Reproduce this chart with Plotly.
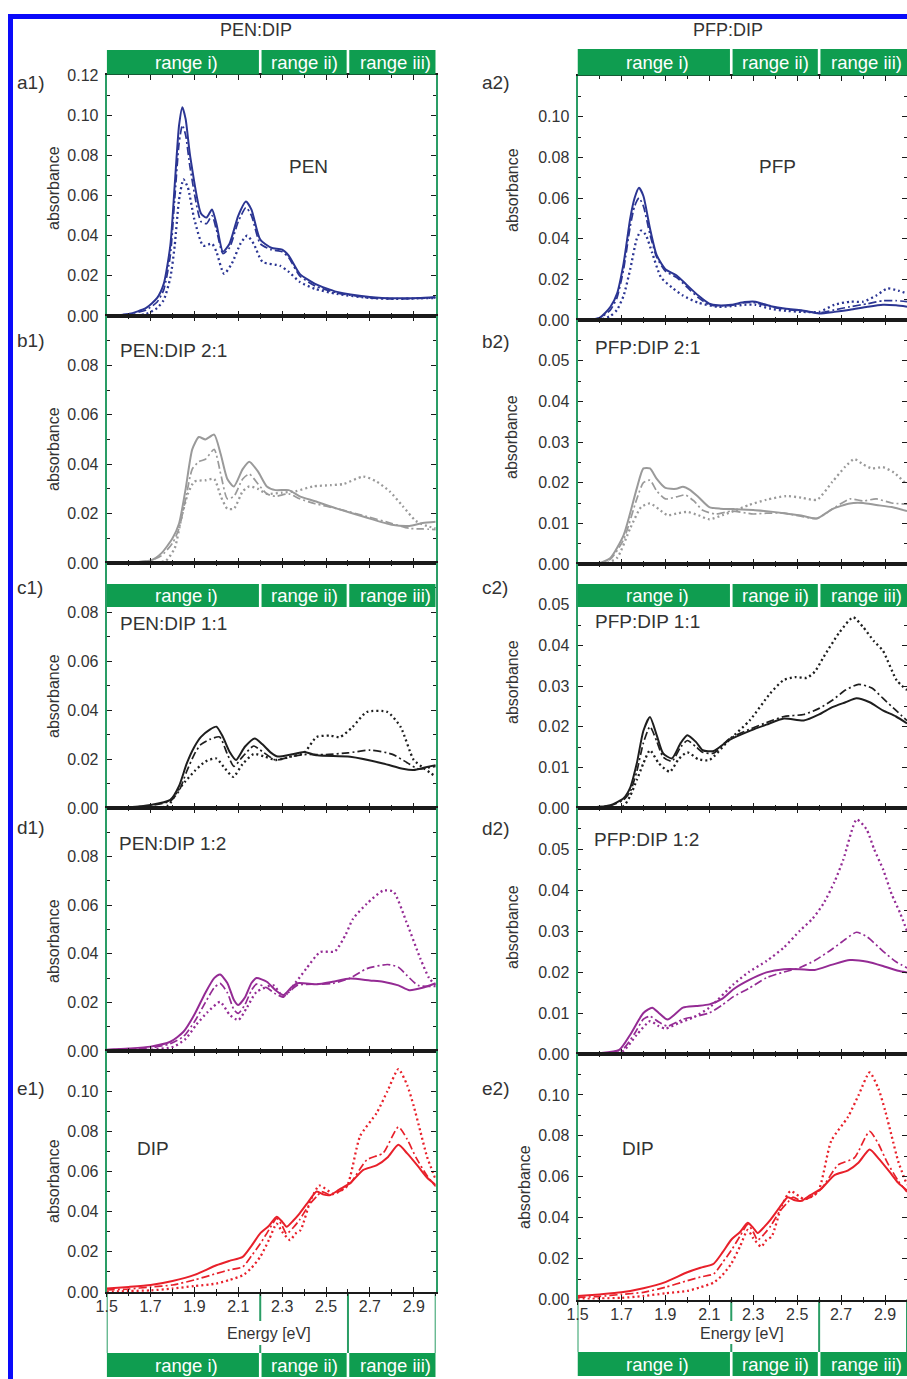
import plotly.graph_objects as go

W, H = 907, 1379


def px(x):
    return x / W


def py(y):
    return 1 - y / H


# ---------------- DATA (energy in eV, absorbance) ----------------
# a1) PEN
a1_solid_E = [1.50, 1.60, 1.68, 1.73, 1.76, 1.79, 1.81, 1.83, 1.845, 1.86, 1.88, 1.93, 1.955, 1.98, 2.00, 2.03, 2.06, 2.10, 2.135, 2.16, 2.20, 2.25, 2.30, 2.33, 2.38, 2.45, 2.55, 2.70, 2.82, 2.92, 3.00]
a1_solid_A = [0.000, 0.001, 0.004, 0.009, 0.016, 0.035, 0.065, 0.095, 0.104, 0.098, 0.080, 0.051, 0.049, 0.053, 0.046, 0.032, 0.036, 0.050, 0.057, 0.053, 0.038, 0.034, 0.033, 0.030, 0.021, 0.016, 0.012, 0.0095, 0.0088, 0.009, 0.0095]
a1_dashdot_E = [1.50, 1.60, 1.68, 1.73, 1.76, 1.79, 1.81, 1.83, 1.845, 1.86, 1.88, 1.93, 1.955, 1.98, 2.00, 2.03, 2.06, 2.10, 2.135, 2.16, 2.20, 2.25, 2.30, 2.33, 2.38, 2.45, 2.55, 2.70, 2.82, 2.92, 3.00]
a1_dashdot_A = [0.000, 0.001, 0.003, 0.007, 0.013, 0.030, 0.058, 0.086, 0.095, 0.090, 0.074, 0.047, 0.046, 0.050, 0.043, 0.031, 0.034, 0.047, 0.054, 0.050, 0.036, 0.033, 0.032, 0.029, 0.020, 0.015, 0.0115, 0.009, 0.0085, 0.0088, 0.009]
a1_dot_E = [1.50, 1.60, 1.68, 1.73, 1.76, 1.79, 1.81, 1.83, 1.85, 1.87, 1.90, 1.94, 1.98, 2.00, 2.035, 2.07, 2.11, 2.14, 2.17, 2.21, 2.29, 2.33, 2.38, 2.45, 2.55, 2.70, 2.82, 2.92, 3.00]
a1_dot_A = [0.000, 0.000, 0.001, 0.004, 0.008, 0.019, 0.035, 0.058, 0.068, 0.064, 0.048, 0.035, 0.036, 0.032, 0.021, 0.026, 0.036, 0.040, 0.036, 0.027, 0.025, 0.022, 0.017, 0.0135, 0.011, 0.009, 0.0085, 0.0088, 0.009]

# a2) PFP
a2_solid_E = [1.50, 1.60, 1.65, 1.68, 1.71, 1.74, 1.76, 1.78, 1.80, 1.83, 1.86, 1.90, 1.95, 2.00, 2.05, 2.10, 2.14, 2.20, 2.26, 2.31, 2.38, 2.45, 2.52, 2.60, 2.67, 2.74, 2.82, 2.89, 2.95, 3.00]
a2_solid_A = [0.000, 0.001, 0.0065, 0.013, 0.028, 0.050, 0.060, 0.065, 0.061, 0.045, 0.032, 0.025, 0.022, 0.017, 0.012, 0.008, 0.0072, 0.0075, 0.0088, 0.009, 0.0068, 0.0055, 0.0048, 0.0032, 0.004, 0.005, 0.0065, 0.0075, 0.0072, 0.0065]
a2_dashdot_E = [1.50, 1.60, 1.65, 1.68, 1.71, 1.74, 1.76, 1.78, 1.80, 1.83, 1.86, 1.90, 1.95, 2.00, 2.05, 2.10, 2.14, 2.20, 2.26, 2.31, 2.38, 2.45, 2.52, 2.60, 2.67, 2.74, 2.82, 2.89, 2.95, 3.00]
a2_dashdot_A = [0.000, 0.001, 0.005, 0.011, 0.025, 0.046, 0.056, 0.060, 0.056, 0.042, 0.031, 0.024, 0.021, 0.016, 0.011, 0.0075, 0.007, 0.0072, 0.0085, 0.0085, 0.0065, 0.0052, 0.0045, 0.0035, 0.005, 0.0065, 0.008, 0.0095, 0.0095, 0.009]
a2_dot_E = [1.50, 1.60, 1.65, 1.68, 1.71, 1.74, 1.77, 1.79, 1.81, 1.84, 1.88, 1.93, 1.98, 2.05, 2.14, 2.20, 2.26, 2.31, 2.38, 2.45, 2.52, 2.60, 2.67, 2.74, 2.80, 2.86, 2.91, 2.96, 3.00]
a2_dot_A = [0.000, 0.000, 0.002, 0.005, 0.012, 0.025, 0.040, 0.044, 0.042, 0.033, 0.021, 0.016, 0.012, 0.0085, 0.0065, 0.0068, 0.0075, 0.0075, 0.0055, 0.0045, 0.004, 0.004, 0.0075, 0.009, 0.009, 0.012, 0.0155, 0.0145, 0.013]

# b1) PEN:DIP 2:1
b1_solid_E = [1.50, 1.60, 1.70, 1.75, 1.80, 1.83, 1.86, 1.89, 1.92, 1.95, 1.99, 2.02, 2.05, 2.08, 2.12, 2.15, 2.19, 2.23, 2.27, 2.33, 2.38, 2.45, 2.55, 2.68, 2.80, 2.88, 2.94, 3.00]
b1_solid_A = [0.000, 0.0002, 0.001, 0.004, 0.010, 0.016, 0.030, 0.046, 0.051, 0.050, 0.052, 0.044, 0.034, 0.031, 0.038, 0.041, 0.037, 0.031, 0.0295, 0.0295, 0.027, 0.025, 0.022, 0.0185, 0.0155, 0.015, 0.0162, 0.0167]
b1_dashdot_E = [1.50, 1.60, 1.70, 1.75, 1.80, 1.83, 1.86, 1.89, 1.92, 1.95, 1.99, 2.02, 2.05, 2.08, 2.12, 2.15, 2.19, 2.23, 2.27, 2.33, 2.38, 2.45, 2.55, 2.68, 2.80, 2.88, 2.94, 3.00]
b1_dashdot_A = [0.000, 0.0002, 0.001, 0.003, 0.008, 0.014, 0.026, 0.038, 0.041, 0.042, 0.046, 0.036, 0.026, 0.027, 0.034, 0.036, 0.032, 0.028, 0.027, 0.028, 0.026, 0.024, 0.022, 0.019, 0.016, 0.014, 0.0138, 0.0135]
b1_dot_E = [1.50, 1.70, 1.77, 1.81, 1.84, 1.87, 1.90, 1.95, 1.99, 2.02, 2.05, 2.08, 2.12, 2.15, 2.19, 2.23, 2.30, 2.36, 2.44, 2.52, 2.58, 2.67, 2.73, 2.79, 2.85, 2.91, 2.96, 3.00]
b1_dot_A = [0.000, 0.000, 0.001, 0.006, 0.018, 0.028, 0.033, 0.0335, 0.034, 0.027, 0.022, 0.022, 0.029, 0.031, 0.030, 0.028, 0.0285, 0.029, 0.031, 0.0315, 0.032, 0.035, 0.033, 0.029, 0.023, 0.017, 0.015, 0.014]

# b2) PFP:DIP 2:1
b2_solid_E = [1.50, 1.60, 1.65, 1.71, 1.77, 1.80, 1.83, 1.86, 1.90, 1.95, 1.98, 2.01, 2.05, 2.10, 2.15, 2.21, 2.30, 2.36, 2.44, 2.51, 2.59, 2.66, 2.74, 2.80, 2.86, 2.93, 3.00]
b2_solid_A = [0.000, 0.0002, 0.0015, 0.0071, 0.0186, 0.0235, 0.0235, 0.021, 0.0187, 0.0185, 0.019, 0.0183, 0.0165, 0.014, 0.0136, 0.0135, 0.0133, 0.013, 0.0125, 0.012, 0.0112, 0.0135, 0.0149, 0.015, 0.0145, 0.014, 0.013]
b2_dashdot_E = [1.50, 1.60, 1.65, 1.71, 1.77, 1.80, 1.83, 1.86, 1.90, 1.95, 1.99, 2.03, 2.07, 2.13, 2.20, 2.30, 2.36, 2.44, 2.51, 2.59, 2.66, 2.74, 2.80, 2.86, 2.93, 3.00]
b2_dashdot_A = [0.000, 0.0002, 0.0012, 0.006, 0.016, 0.020, 0.0206, 0.018, 0.016, 0.0165, 0.017, 0.0155, 0.0132, 0.0123, 0.013, 0.0123, 0.0125, 0.0125, 0.0118, 0.0112, 0.0135, 0.016, 0.0155, 0.016, 0.015, 0.0147]
b2_dot_E = [1.50, 1.62, 1.68, 1.74, 1.79, 1.83, 1.87, 1.91, 1.96, 2.00, 2.05, 2.10, 2.16, 2.21, 2.28, 2.36, 2.45, 2.52, 2.59, 2.66, 2.72, 2.76, 2.80, 2.84, 2.89, 2.94, 3.00]
b2_dot_A = [0.000, 0.000, 0.0015, 0.0088, 0.014, 0.0149, 0.0135, 0.012, 0.0125, 0.0128, 0.012, 0.011, 0.012, 0.013, 0.0145, 0.0158, 0.0167, 0.0163, 0.0158, 0.0202, 0.024, 0.0258, 0.0245, 0.0235, 0.0238, 0.0225, 0.0195]

# c1) PEN:DIP 1:1
c1_solid_E = [1.50, 1.60, 1.70, 1.79, 1.83, 1.865, 1.90, 1.93, 1.97, 2.00, 2.03, 2.06, 2.09, 2.13, 2.175, 2.21, 2.25, 2.28, 2.34, 2.40, 2.46, 2.61, 2.76, 2.85, 2.90, 2.95, 3.00]
c1_solid_A = [0.000, 0.0003, 0.0012, 0.0033, 0.009, 0.0182, 0.025, 0.029, 0.032, 0.0332, 0.029, 0.023, 0.0196, 0.025, 0.0284, 0.026, 0.0225, 0.021, 0.0218, 0.0229, 0.0215, 0.0209, 0.0182, 0.016, 0.0155, 0.0165, 0.0175]
c1_dashdot_E = [1.50, 1.60, 1.70, 1.79, 1.83, 1.865, 1.90, 1.93, 1.97, 2.015, 2.05, 2.08, 2.12, 2.17, 2.21, 2.27, 2.34, 2.40, 2.50, 2.60, 2.70, 2.80, 2.87, 2.92, 3.00]
c1_dashdot_A = [0.000, 0.0003, 0.001, 0.0028, 0.007, 0.015, 0.022, 0.026, 0.028, 0.029, 0.022, 0.017, 0.021, 0.0253, 0.023, 0.0196, 0.021, 0.0218, 0.0218, 0.0225, 0.0236, 0.022, 0.0185, 0.016, 0.017]
c1_dot_E = [1.50, 1.70, 1.78, 1.82, 1.86, 1.90, 1.95, 2.00, 2.04, 2.077, 2.12, 2.17, 2.22, 2.27, 2.34, 2.40, 2.457, 2.52, 2.564, 2.62, 2.686, 2.78, 2.84, 2.90, 2.95, 3.00]
c1_dot_A = [0.000, 0.000, 0.001, 0.0066, 0.011, 0.015, 0.019, 0.0202, 0.016, 0.0127, 0.018, 0.022, 0.021, 0.0196, 0.021, 0.0225, 0.029, 0.0295, 0.029, 0.033, 0.0392, 0.0392, 0.0331, 0.0196, 0.016, 0.0128]

# c2) PFP:DIP 1:1
c2_solid_E = [1.50, 1.60, 1.65, 1.71, 1.74, 1.77, 1.80, 1.83, 1.86, 1.89, 1.93, 1.97, 2.00, 2.04, 2.07, 2.12, 2.19, 2.29, 2.36, 2.44, 2.53, 2.60, 2.66, 2.72, 2.77, 2.83, 2.89, 2.95, 3.00]
c2_solid_A = [0.000, 0.0003, 0.0007, 0.0024, 0.005, 0.011, 0.019, 0.0224, 0.018, 0.0134, 0.0122, 0.016, 0.0179, 0.0162, 0.0142, 0.014, 0.0167, 0.0191, 0.0205, 0.022, 0.0215, 0.023, 0.0248, 0.026, 0.027, 0.026, 0.024, 0.0225, 0.0208]
c2_dashdot_E = [1.50, 1.60, 1.65, 1.71, 1.74, 1.77, 1.80, 1.83, 1.86, 1.89, 1.93, 1.97, 2.00, 2.04, 2.07, 2.12, 2.19, 2.29, 2.36, 2.44, 2.53, 2.60, 2.66, 2.72, 2.78, 2.84, 2.89, 2.95, 3.00]
c2_dashdot_A = [0.000, 0.0003, 0.0006, 0.002, 0.004, 0.009, 0.016, 0.020, 0.0165, 0.0125, 0.0115, 0.015, 0.0166, 0.015, 0.0137, 0.0135, 0.017, 0.0195, 0.021, 0.0225, 0.023, 0.0245, 0.0265, 0.029, 0.0304, 0.0295, 0.027, 0.024, 0.0215]
c2_dot_E = [1.50, 1.65, 1.71, 1.74, 1.77, 1.80, 1.83, 1.87, 1.92, 1.96, 2.00, 2.05, 2.10, 2.19, 2.285, 2.376, 2.437, 2.49, 2.543, 2.58, 2.62, 2.69, 2.755, 2.80, 2.85, 2.89, 2.953, 3.00]
c2_dot_A = [0.000, 0.000, 0.0005, 0.003, 0.0069, 0.011, 0.0142, 0.011, 0.0089, 0.012, 0.0137, 0.012, 0.0118, 0.0167, 0.0216, 0.0281, 0.0314, 0.0322, 0.032, 0.0335, 0.0371, 0.043, 0.0469, 0.0445, 0.041, 0.0387, 0.0314, 0.029]

# d1) PEN:DIP 1:2
d1_solid_E = [1.50, 1.60, 1.70, 1.79, 1.85, 1.90, 1.95, 1.99, 2.017, 2.05, 2.08, 2.10, 2.13, 2.16, 2.183, 2.23, 2.27, 2.305, 2.34, 2.37, 2.46, 2.53, 2.61, 2.70, 2.76, 2.83, 2.88, 2.94, 3.00]
d1_solid_A = [0.0005, 0.001, 0.0018, 0.0038, 0.0079, 0.015, 0.024, 0.030, 0.0315, 0.028, 0.021, 0.0189, 0.022, 0.028, 0.030, 0.0285, 0.025, 0.023, 0.026, 0.0279, 0.0275, 0.0285, 0.0298, 0.029, 0.0285, 0.027, 0.025, 0.026, 0.0279]
d1_dashdot_E = [1.50, 1.60, 1.70, 1.79, 1.85, 1.90, 1.95, 1.99, 2.017, 2.05, 2.08, 2.10, 2.13, 2.16, 2.183, 2.23, 2.27, 2.305, 2.34, 2.37, 2.46, 2.53, 2.61, 2.686, 2.78, 2.83, 2.87, 2.92, 3.00]
d1_dashdot_A = [0.0005, 0.0008, 0.0012, 0.003, 0.006, 0.012, 0.020, 0.026, 0.0278, 0.024, 0.017, 0.0155, 0.019, 0.025, 0.0275, 0.026, 0.0235, 0.0223, 0.025, 0.0271, 0.0275, 0.0278, 0.030, 0.0339, 0.0356, 0.0345, 0.031, 0.027, 0.0266]
d1_dot_E = [1.50, 1.70, 1.806, 1.86, 1.91, 1.96, 2.017, 2.06, 2.10, 2.14, 2.183, 2.26, 2.305, 2.36, 2.41, 2.473, 2.54, 2.59, 2.623, 2.686, 2.76, 2.807, 2.867, 2.93, 2.97, 3.00]
d1_dot_A = [0.000, 0.0005, 0.0018, 0.005, 0.011, 0.016, 0.0202, 0.015, 0.0127, 0.018, 0.0243, 0.027, 0.0223, 0.028, 0.0339, 0.0407, 0.041, 0.048, 0.0544, 0.0606, 0.066, 0.0656, 0.053, 0.038, 0.030, 0.027]

# d2) PFP:DIP 1:2
d2_solid_E = [1.50, 1.60, 1.69, 1.74, 1.80, 1.84, 1.87, 1.91, 1.98, 2.04, 2.10, 2.16, 2.21, 2.28, 2.36, 2.44, 2.51, 2.58, 2.66, 2.74, 2.82, 2.90, 2.96, 3.00]
d2_solid_A = [0.000, 0.0002, 0.001, 0.0047, 0.010, 0.0113, 0.010, 0.0084, 0.0113, 0.0117, 0.0121, 0.0135, 0.0158, 0.018, 0.0199, 0.0207, 0.0207, 0.0205, 0.0218, 0.0229, 0.0225, 0.0213, 0.0203, 0.0199]
d2_dashdot_E = [1.50, 1.62, 1.70, 1.76, 1.80, 1.83, 1.87, 1.91, 1.98, 2.04, 2.10, 2.16, 2.21, 2.28, 2.36, 2.44, 2.51, 2.58, 2.66, 2.72, 2.77, 2.82, 2.89, 2.95, 3.00]
d2_dashdot_A = [0.000, 0.0002, 0.0008, 0.005, 0.0085, 0.0092, 0.0078, 0.0068, 0.0085, 0.0092, 0.010, 0.012, 0.014, 0.016, 0.0186, 0.020, 0.021, 0.0228, 0.0256, 0.028, 0.0297, 0.0285, 0.0251, 0.0225, 0.021]
d2_dot_E = [1.50, 1.66, 1.71, 1.77, 1.83, 1.87, 1.90, 1.96, 2.03, 2.10, 2.21, 2.28, 2.361, 2.44, 2.513, 2.57, 2.62, 2.67, 2.71, 2.771, 2.816, 2.85, 2.892, 2.93, 2.97, 3.00]
d2_dot_A = [0.000, 0.000, 0.0008, 0.0047, 0.008, 0.0068, 0.0062, 0.0075, 0.009, 0.0113, 0.017, 0.020, 0.0227, 0.026, 0.0301, 0.033, 0.0367, 0.042, 0.0474, 0.0572, 0.0548, 0.050, 0.0449, 0.039, 0.0342, 0.030]

# e1) / e2) DIP
e_solid_E = [1.50, 1.60, 1.70, 1.80, 1.90, 2.00, 2.06, 2.12, 2.16, 2.20, 2.24, 2.275, 2.30, 2.32, 2.35, 2.38, 2.42, 2.457, 2.49, 2.52, 2.56, 2.61, 2.67, 2.73, 2.78, 2.83, 2.87, 2.92, 2.96, 3.00]
e_solid_A = [0.0017, 0.0025, 0.0035, 0.0055, 0.0085, 0.0133, 0.0155, 0.0175, 0.023, 0.0292, 0.033, 0.0375, 0.035, 0.0325, 0.0355, 0.0392, 0.045, 0.050, 0.0485, 0.0483, 0.051, 0.0542, 0.0608, 0.063, 0.067, 0.0733, 0.069, 0.0625, 0.057, 0.0533]
e_dashdot_E = [1.50, 1.60, 1.70, 1.80, 1.90, 2.00, 2.06, 2.12, 2.16, 2.20, 2.24, 2.275, 2.30, 2.32, 2.35, 2.38, 2.42, 2.457, 2.48, 2.52, 2.56, 2.61, 2.686, 2.76, 2.83, 2.87, 2.91, 2.96, 3.00]
e_dashdot_A = [0.001, 0.0015, 0.0025, 0.0035, 0.006, 0.0092, 0.011, 0.0125, 0.018, 0.024, 0.031, 0.0367, 0.033, 0.029, 0.032, 0.036, 0.043, 0.0475, 0.050, 0.0483, 0.050, 0.054, 0.0658, 0.0692, 0.0822, 0.076, 0.067, 0.058, 0.0525]
e_dot_E = [1.50, 1.60, 1.70, 1.80, 1.90, 2.00, 2.06, 2.12, 2.16, 2.20, 2.24, 2.275, 2.30, 2.336, 2.36, 2.384, 2.43, 2.47, 2.533, 2.594, 2.655, 2.731, 2.78, 2.83, 2.87, 2.90, 2.93, 2.96, 3.00]
e_dot_A = [0.000, 0.0005, 0.0008, 0.0017, 0.003, 0.0042, 0.006, 0.0083, 0.012, 0.0175, 0.026, 0.034, 0.030, 0.0258, 0.029, 0.0308, 0.0458, 0.053, 0.049, 0.0525, 0.0775, 0.0892, 0.100, 0.111, 0.103, 0.0925, 0.080, 0.0675, 0.056]

# axis ticks
x_tick_labels = ["1.5", "1.7", "1.9", "2.1", "2.3", "2.5", "2.7", "2.9"]
x_tick_vals = [1.5, 1.7, 1.9, 2.1, 2.3, 2.5, 2.7, 2.9]
range_labels = ["range i)", "range ii)", "range iii)"]
range_edges = [1.5, 2.2, 2.6, 3.0]

# ---------------- STYLE ----------------
NAVY = "#2b3593"
GRAY = "#9a9a9a"
BLACK = "#1e1e1e"
PURPLE = "#942b94"
RED = "#e8202a"
GREEN_BAR = "#0f9d50"
GREEN_LINE = "#2a9d65"
BLUE = "#0a0afa"
TXT = "#333333"
FONT = "Liberation Sans, Arial, sans-serif"

DOT = "2px,3px"
DASHDOT = "8px,3px,2px,3px"

LEFT_X = [px(106.7), px(435.7)]
RIGHT_X = [px(577.5), 1.0]

panels = [
    (1, "L", 75, 316, 0.12, [0, 0.02, 0.04, 0.06, 0.08, 0.10, 0.12], 0.01,
     (a1_solid_E, a1_solid_A, a1_dashdot_E, a1_dashdot_A, a1_dot_E, a1_dot_A), NAVY),
    (2, "L", 316, 563, 0.10, [0, 0.02, 0.04, 0.06, 0.08], 0.01,
     (b1_solid_E, b1_solid_A, b1_dashdot_E, b1_dashdot_A, b1_dot_E, b1_dot_A), GRAY),
    (3, "L", 563, 808, 0.10, [0, 0.02, 0.04, 0.06, 0.08], 0.01,
     (c1_solid_E, c1_solid_A, c1_dashdot_E, c1_dashdot_A, c1_dot_E, c1_dot_A), BLACK),
    (4, "L", 808, 1051, 0.10, [0, 0.02, 0.04, 0.06, 0.08], 0.01,
     (d1_solid_E, d1_solid_A, d1_dashdot_E, d1_dashdot_A, d1_dot_E, d1_dot_A), PURPLE),
    (5, "L", 1051, 1292, 0.12, [0, 0.02, 0.04, 0.06, 0.08, 0.10], 0.01,
     (e_solid_E, e_solid_A, e_dashdot_E, e_dashdot_A, e_dot_E, e_dot_A), RED),
    (6, "R", 76, 320, 0.12, [0, 0.02, 0.04, 0.06, 0.08, 0.10], 0.01,
     (a2_solid_E, a2_solid_A, a2_dashdot_E, a2_dashdot_A, a2_dot_E, a2_dot_A), NAVY),
    (7, "R", 320, 564, 0.06, [0, 0.01, 0.02, 0.03, 0.04, 0.05], 0.005,
     (b2_solid_E, b2_solid_A, b2_dashdot_E, b2_dashdot_A, b2_dot_E, b2_dot_A), GRAY),
    (8, "R", 564, 808, 0.06, [0, 0.01, 0.02, 0.03, 0.04, 0.05], 0.005,
     (c2_solid_E, c2_solid_A, c2_dashdot_E, c2_dashdot_A, c2_dot_E, c2_dot_A), BLACK),
    (9, "R", 808, 1054, 0.06, [0, 0.01, 0.02, 0.03, 0.04, 0.05], 0.005,
     (d2_solid_E, d2_solid_A, d2_dashdot_E, d2_dashdot_A, d2_dot_E, d2_dot_A), PURPLE),
    (10, "R", 1054, 1299.5, 0.12, [0, 0.02, 0.04, 0.06, 0.08, 0.10], 0.01,
     (e_solid_E, e_solid_A, e_dashdot_E, e_dashdot_A, e_dot_E, e_dot_A), RED),
]

fig = go.Figure()
layout = dict(
    width=W, height=H, margin=dict(l=0, r=0, t=0, b=0, pad=0, autoexpand=False),
    paper_bgcolor="white", plot_bgcolor="rgba(0,0,0,0)", showlegend=False,
    font=dict(family=FONT, color=TXT),
)

for idx, col, top, bot, ymax, yticks, ymin_dt, d, color in panels:
    sfx = "" if idx == 1 else str(idx)
    xa, ya = "x" + sfx, "y" + sfx
    sE, sA, ddE, ddA, dtE, dtA = d
    for E, A, dash, lw in ((dtE, dtA, DOT, 2.3), (ddE, ddA, DASHDOT, 1.7), (sE, sA, "solid", 2.0)):
        fig.add_trace(go.Scatter(x=E, y=A, mode="lines", xaxis=xa, yaxis=ya,
                                 line=dict(color=color, width=lw, dash=dash, shape="spline", smoothing=0.6),
                                 hoverinfo="skip"))
    layout["xaxis" + sfx] = dict(
        domain=LEFT_X if col == "L" else RIGHT_X, anchor=ya, range=[1.5, 3.0], automargin=False,
        showline=True, linecolor="#1a1a1a", linewidth=2, mirror="ticks",
        ticks="inside", ticklen=5, tickwidth=1.2, tickcolor="#1a1a1a",
        tickvals=x_tick_vals, ticktext=x_tick_labels, showticklabels=False,
        minor=dict(tickmode="linear", tick0=1.5, dtick=0.1, ticks="inside", ticklen=3, tickcolor="#1a1a1a"),
        showgrid=False, zeroline=False, fixedrange=True,
    )
    layout["yaxis" + sfx] = dict(
        domain=[py(bot), py(top)], anchor=xa, range=[0, ymax], automargin=False,
        showline=True, linecolor=GREEN_LINE, linewidth=2, mirror="ticks",
        ticks="inside", ticklen=5, tickwidth=1.2, tickcolor="#1a1a1a",
        tickvals=yticks, tickformat=".2f", ticklabelstandoff=3,
        tickfont=dict(size=16, color=TXT, family=FONT),
        minor=dict(tickmode="linear", tick0=0, dtick=ymin_dt, ticks="inside", ticklen=3, tickcolor="#1a1a1a"),
        showgrid=False, zeroline=False, fixedrange=True,
    )

# overlay bottom axes (outside ticks + labels) for the e-panels; they carry an invisible copy of the DIP trace
for new, base, ybase, dom in ((11, "x5", "y5", LEFT_X), (12, "x10", "y10", RIGHT_X)):
    fig.add_trace(go.Scatter(x=e_solid_E, y=e_solid_A, mode="lines", xaxis="x" + str(new), yaxis=ybase,
                             line=dict(width=0, color="rgba(0,0,0,0)"), hoverinfo="skip"))
    layout["xaxis" + str(new)] = dict(
        domain=dom, anchor=ybase, overlaying=base, side="bottom", range=[1.5, 3.0], automargin=False,
        showline=False, ticks="outside", ticklen=4, tickwidth=1.2, tickcolor="#1a1a1a",
        tickvals=x_tick_vals, ticktext=x_tick_labels, showticklabels=True,
        tickfont=dict(size=16, color=TXT, family=FONT), ticklabelstandoff=-4,
        minor=dict(tickmode="linear", tick0=1.5, dtick=0.1, ticks="outside", ticklen=2.5, tickcolor="#1a1a1a"),
        showgrid=False, zeroline=False, fixedrange=True,
    )

fig.update_layout(**layout)

shapes = []
annotations = []


def range_bar(xref, ytop, ybot):
    gap = 0.006
    for i in range(3):
        x0 = range_edges[i] + (gap if i > 0 else 0)
        x1 = range_edges[i + 1] - (gap if i < 2 else 0)
        shapes.append(dict(type="rect", xref=xref, yref="paper", x0=x0, x1=x1,
                           y0=py(ybot), y1=py(ytop), fillcolor=GREEN_BAR, line=dict(width=0),
                           layer="above"))
    centers = [1.865, 2.40, 2.815]
    for c, lab in zip(centers, range_labels):
        annotations.append(dict(xref=xref, yref="paper", x=c, y=py((ytop + ybot) / 2),
                                text=lab, showarrow=False, xanchor="center", yanchor="middle",
                                font=dict(size=18.5, color="white", family=FONT)))


range_bar("x", 50, 74.5)
range_bar("x6", 49, 75.5)
range_bar("x3", 584, 607)
range_bar("x8", 584, 607)
range_bar("x5", 1353, 1377)
range_bar("x10", 1352, 1376)

# green boundary lines between the bottom axis and the bottom bar (2.2 eV line interrupted by the axis title)
for xref, ytop, ybot, gtop, gbot in (("x5", 1292, 1353, 1321, 1345), ("x10", 1299.5, 1352, 1321, 1344)):
    for e in range_edges:
        segs = [(ytop, gtop), (gbot, ybot)] if e == 2.2 else [(ytop, ybot)]
        for s0, s1 in segs:
            shapes.append(dict(type="line", xref=xref, yref="paper", x0=e, x1=e,
                               y0=py(s1), y1=py(s0), line=dict(color=GREEN_LINE, width=2),
                               layer="below"))

shapes.append(dict(type="rect", xref="paper", yref="paper", x0=px(10.5), x1=1.2,
                   y0=-0.2, y1=py(16.5), line=dict(color=BLUE, width=5), fillcolor="rgba(0,0,0,0)"))


def text(x, y, s, size=19, xanchor="center", angle=0):
    annotations.append(dict(xref="paper", yref="paper", x=px(x), y=py(y), text=s, showarrow=False,
                            xanchor=xanchor, yanchor="middle", textangle=angle,
                            font=dict(size=size, color=TXT, family=FONT)))


text(256, 30, "PEN:DIP", 18)
text(728, 30, "PFP:DIP", 18)

for lab, x, y in (("a1)", 15, 82), ("b1)", 15, 340), ("c1)", 15, 587), ("d1)", 15, 827), ("e1)", 15, 1088),
                  ("a2)", 480, 82), ("b2)", 480, 341), ("c2)", 480, 587), ("d2)", 480, 828), ("e2)", 480, 1088)):
    text(x, y, lab, 19, xanchor="left")

for lab, x, y in (("PEN", 308, 167), ("PFP", 777, 167),
                  ("PEN:DIP 2:1", 173, 350), ("PFP:DIP 2:1", 647, 348),
                  ("PEN:DIP 1:1", 173, 623), ("PFP:DIP 1:1", 647, 622),
                  ("PEN:DIP 1:2", 172, 843), ("PFP:DIP 1:2", 646, 839),
                  ("DIP", 153, 1148), ("DIP", 638, 1148)):
    text(x, y, lab, 19)

for x, y in ((53, 188), (53, 449), (53, 696), (53, 941), (53, 1181),
             (512, 190), (512, 437), (512, 682), (512, 927), (524, 1187)):
    text(x, y, "absorbance", 16, angle=-90)

text(269, 1333, "Energy [eV]", 16)
text(742, 1333, "Energy [eV]", 16)

fig.update_layout(shapes=shapes, annotations=annotations)
fig.write_html("out.html")
